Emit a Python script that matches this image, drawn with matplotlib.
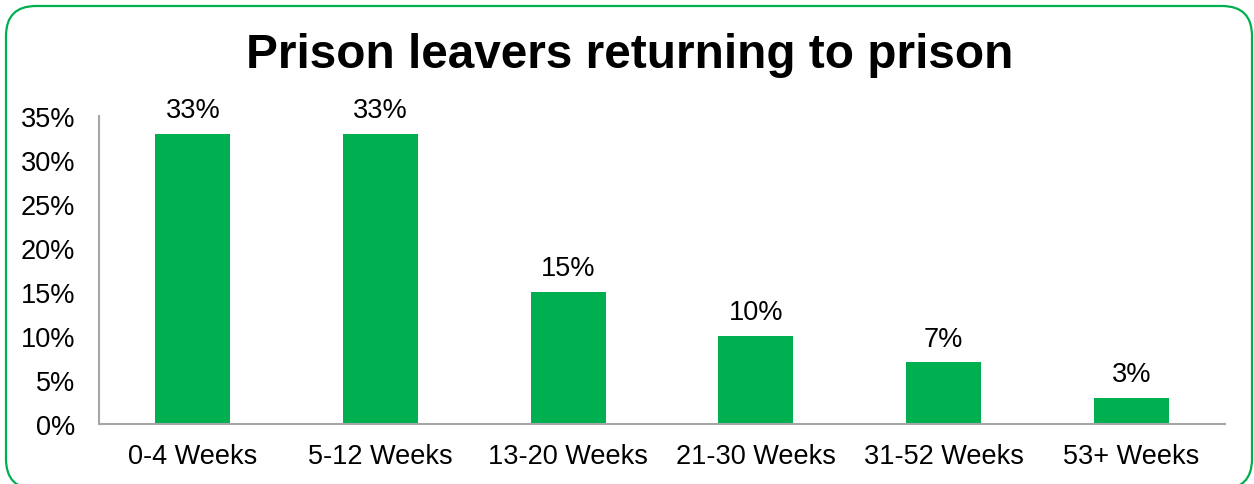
import matplotlib
matplotlib.use("Agg")
import matplotlib.pyplot as plt
from matplotlib.patches import FancyBboxPatch

categories = ["0-4 Weeks", "5-12 Weeks", "13-20 Weeks", "21-30 Weeks", "31-52 Weeks", "53+ Weeks"]
values = [33, 33, 15, 10, 7, 3]
yticks = [0, 5, 10, 15, 20, 25, 30, 35]

GREEN = "#00B050"
plt.rcParams["font.family"] = ["Liberation Sans", "DejaVu Sans"]

W, H = 1254, 485
fig = plt.figure(figsize=(W / 100, H / 100), dpi=100)

# rounded frame around the chart, drawn in pixel coordinates (y up)
bg = fig.add_axes([0, 0, 1, 1])
bg.set_xlim(0, W)
bg.set_ylim(0, H)
bg.axis("off")
bg.add_patch(FancyBboxPatch((6, -5), W - 8, H - 7 + 5,
                            boxstyle="round,pad=0,rounding_size=30",
                            fill=False, edgecolor=GREEN, linewidth=1.6,
                            clip_on=False))

ax = fig.add_axes([99 / W, 1 - 425 / H, (1225 - 99) / W, (425 - 117) / H])
x = range(len(categories))
ax.bar(x, values, width=0.4, color=GREEN)
for xi, v in zip(x, values):
    ax.text(xi, v + 1.2, f"{v}%", ha="center", va="bottom", fontsize=19.5)

ax.set_xlim(-0.5, len(categories) - 0.5)
ax.set_ylim(0, 35)
ax.set_yticks(yticks)
ax.set_yticklabels([f"{t}%" for t in yticks], fontsize=19.5)
ax.set_xticks(list(x))
ax.set_xticklabels(categories, fontsize=19.5)
ax.tick_params(axis="y", length=0, pad=17)
ax.tick_params(axis="x", length=0, pad=14)
for s in ["top", "right"]:
    ax.spines[s].set_visible(False)
for s in ["left", "bottom"]:
    ax.spines[s].set_color("#A6A6A6")
    ax.spines[s].set_linewidth(1.5)

fig.text(630 / W, 1 - 56 / H, "Prison leavers returning to prison",
         ha="center", va="center", fontsize=34.4, fontweight="bold")

fig.savefig("out.png", dpi=100)
